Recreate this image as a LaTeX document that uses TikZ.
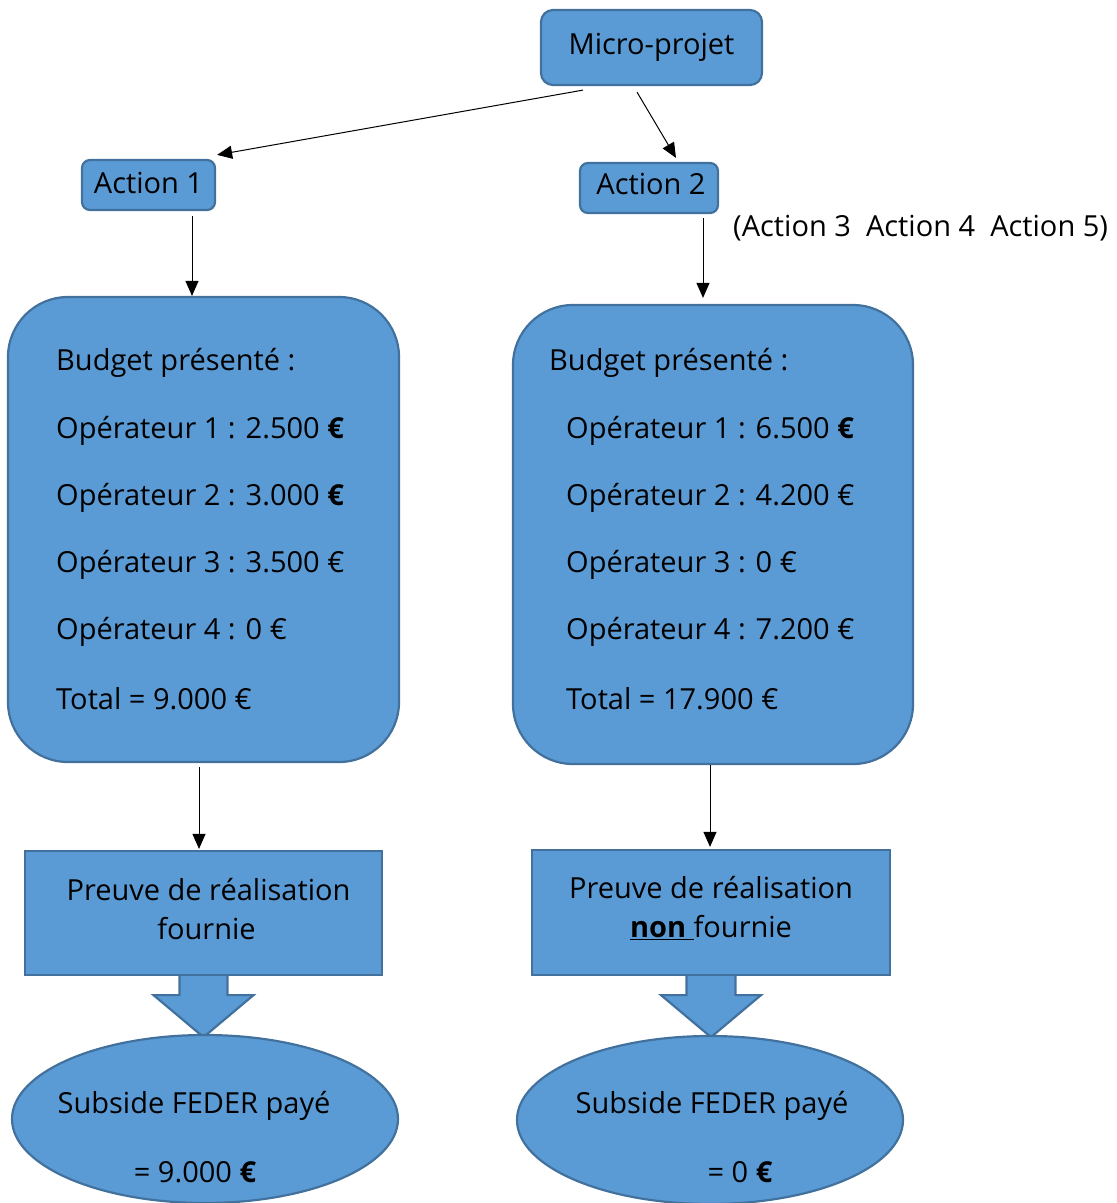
\documentclass[tikz,border=0pt]{standalone}
\usepackage{fontspec}
\setmainfont{Open Sans}
\usetikzlibrary{arrows.meta,shapes.geometric}
\definecolor{boxblue}{HTML}{5B9BD5}
\definecolor{boxedge}{HTML}{41719C}
\tikzset{
  box/.style={draw=boxedge, fill=boxblue, line width=2.2pt, inner sep=0pt},
  conn/.style={-{Triangle[length=15pt,width=13pt]}, line width=1pt},
  txt/.style={anchor=west, inner sep=0pt},
  bigarrow/.style={draw=boxedge, fill=boxblue, line width=2.2pt, line join=miter}
}

\begin{document}
\begin{tikzpicture}[x=1pt, y=-1pt, font=\fontsize{29}{40}\selectfont]
            \useasboundingbox (0,0) rectangle (1117,1203);
            % top part
            \node[box, rounded corners=12pt, minimum width=221pt, minimum height=75pt] (micro) at (651.5,47.5) {\raisebox{2pt}{Micro-projet}};
            \node[box, rounded corners=8pt, minimum width=133pt, minimum height=50pt] (act1) at (148.5,185) {\raisebox{5pt}{Action 1}};
            \node[box, rounded corners=8pt, minimum width=138pt, minimum height=50pt] (act2) at (649,188) {\raisebox{8pt}{\hspace*{4pt}Action 2}};
            \node[txt] (others) at (733,228) {(Action 3~~Action 4~~Action 5)};
            \draw[conn] ([xshift=-68.5pt,yshift=-4pt]micro.south) -- ([xshift=1pt,yshift=4pt]act1.north east);
            \draw[conn] ([xshift=-14.5pt,yshift=-6pt]micro.south) -- ([xshift=27pt,yshift=4pt]act2.north);
            % budgets
            \node[box, rounded corners=60pt, minimum width=391pt, minimum height=465pt] (bud1) at (203.5,529.5) {};
            \node[box, rounded corners=60pt, minimum width=400pt, minimum height=459pt] (bud2) at (713,534.5) {};
            \draw[conn] ([xshift=43.5pt,yshift=-5pt]act1.south) -- ([xshift=-11.5pt]bud1.north);
            \draw[conn] ([xshift=54pt,yshift=-4pt]act2.south) -- ([xshift=-10pt,yshift=6pt]bud2.north);
            \node[txt] (bud1t) at (56,363) {Budget présenté :};
            \foreach \y/\t [count=\i] in {431/Opérateur 1 : 2.500 \textbf{€}, 498/Opérateur 2 : 3.000 \textbf{€},
                565/Opérateur 3 : 3.500 €, 632/Opérateur 4 : 0 €, 699/Total = 9.000 €}{
              \node[txt] (bud1l\i) at (56,\y) {\t};
            }
            \node[txt] (bud2t) at (549,363) {Budget présenté :};
            \foreach \y/\t [count=\i] in {431/Opérateur 1 : 6.500 \textbf{€}, 498/Opérateur 2 : 4.200 €,
                565/Opérateur 3 : 0 €, 632/Opérateur 4 : 7.200 €, 699/Total = 17.900 €}{
              \node[txt] (bud2l\i) at (566,\y) {\t};
            }
            % proofs
            \node[box, minimum width=357pt, minimum height=124pt] (pr1) at (203.5,913) {};
            \node[box, minimum width=358pt, minimum height=125pt] (pr2) at (711,912.5) {};
            \node[align=center, inner sep=0pt] (pr1t) at ([xshift=3pt,yshift=4pt]pr1.center) {\hspace*{4pt}Preuve de réalisation\\[-1pt]fournie};
            \node[align=center, inner sep=0pt] (pr2t) at ([yshift=4pt]pr2.center) {Preuve de réalisation\\[-1pt]\underline{\textbf{non}\ }fournie};
            \draw[conn] ([xshift=-4.5pt,yshift=-4pt]bud1.south) -- ([xshift=-4.5pt,yshift=1pt]pr1.north);
            \draw[conn] ([xshift=-3pt]bud2.south) -- ([xshift=-1pt,yshift=2pt]pr2.north);
            \draw[bigarrow] ([xshift=-24pt]pr1.south) -- ++(0,19) -- ++(-26,0) -- ([yshift=-61pt]pr1.south)
                -- ([xshift=50pt,yshift=-19pt]pr1.south) -- ++(-26,0) -- ([xshift=24pt]pr1.south);
            \draw[bigarrow] ([xshift=-24.5pt]pr2.south) -- ++(0,19) -- ++(-25.5,0) -- ([yshift=-61pt]pr2.south)
                -- ([xshift=50pt,yshift=-19pt]pr2.south) -- ++(-25.5,0) -- ([xshift=24.5pt]pr2.south);
            % subsidies
            \node[box, ellipse, minimum width=386pt, minimum height=168pt] (sub1) at (205,1119) {};
            \node[box, ellipse, minimum width=386pt, minimum height=168pt] (sub2) at (710,1120) {};
            \node[inner sep=0pt] (sub1a) at (194,1106) {Subside FEDER payé};
            \node[inner sep=0pt] (sub1b) at (195,1172) {= 9.000 \textbf{€}};
            \node[inner sep=0pt] (sub2a) at (712,1106) {Subside FEDER payé};
            \node[inner sep=0pt] (sub2b) at (740,1172) {= 0 \textbf{€}};
          \end{tikzpicture}
\end{document}
